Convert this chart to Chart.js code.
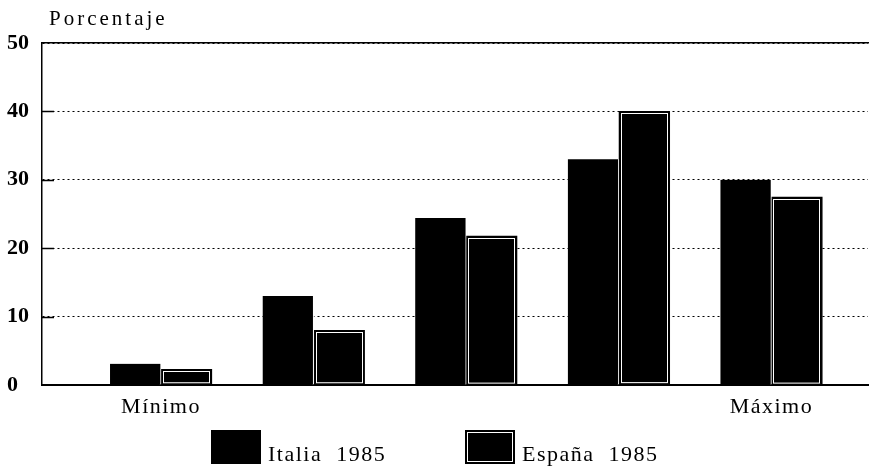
<!DOCTYPE html>
<html><head><meta charset="utf-8">
<script src="https://cdn.jsdelivr.net/npm/chart.js@4"></script>
<style>
html,body{margin:0;padding:0;background:#fff;}
#wrap{position:relative;width:872px;height:466px;overflow:hidden;}
canvas{position:absolute;left:0;top:0;}
.legtxt{position:absolute;font-family:"Liberation Serif",serif;font-size:22px;line-height:22px;letter-spacing:1.5px;white-space:pre;color:#000;}
.sw{position:absolute;width:50px;height:34px;background:#000;}
.sw.inner{box-shadow:inset 0 0 0 2px #000, inset 0 0 0 3px #fff;}
</style></head><body>
<div id="wrap"><canvas id="c" width="872" height="466"></canvas><div id="legend"></div></div>
<script>
const categories = ["Mínimo", "", "", "", "Máximo"];
const seriesNames = ["Italia  1985", "España  1985"];
const italia = [3.1, 13, 24.4, 33, 30];
const espana = [2.3, 8, 21.8, 40, 27.5];
const yTickValues = [0, 10, 20, 30, 40, 50];
const yAxisTitle = "Porcentaje";

const toPoints = arr => arr.map((v, i) => ({x: i + 1, y: v}));

const innerLine = {
  id: 'innerLine',
  beforeDraw(chart) { chart.ctx.letterSpacing = '1.5px'; },
  beforeDatasetsDraw(chart) {
    chart.ctx.letterSpacing = '0px';
    // short solid tick marks inside the y axis
    const ctx = chart.ctx, ys = chart.scales.y, a = chart.chartArea;
    ctx.save();
    ctx.strokeStyle = '#000';
    ctx.lineWidth = 1.5;
    yTickValues.slice(1, -1).forEach(v => {
      const py = Math.round(ys.getPixelForValue(v)) + 0.5;
      ctx.beginPath();
      ctx.moveTo(a.left, py);
      ctx.lineTo(a.left + 12, py);
      ctx.stroke();
    });
    ctx.restore();
  },
  afterDatasetsDraw(chart) {
    const ctx = chart.ctx;
    const meta = chart.getDatasetMeta(1);
    ctx.save();
    ctx.strokeStyle = '#fff';
    ctx.lineWidth = 1;
    meta.data.forEach(el => {
      const p = el.getProps(['x', 'y', 'base', 'width'], true);
      const l = p.x - p.width / 2;
      ctx.strokeRect(Math.round(l) + 2.5, Math.round(p.y) + 2.5, p.width - 5, p.base - p.y - 4);
    });
    ctx.restore();
  },
  afterDraw(chart) {
    const ctx = chart.ctx;
    ctx.save();
    ctx.letterSpacing = '3px';
    ctx.font = '21px "Liberation Serif", serif';
    ctx.fillStyle = '#000';
    ctx.textBaseline = 'alphabetic';
    ctx.fillText(yAxisTitle, chart.chartArea.left + 7, chart.chartArea.top - 18);
    ctx.restore();
  }
};

new Chart(document.getElementById('c'), {
  type: 'bar',
  data: {
    datasets: [
      {label: seriesNames[0], data: toPoints(italia), backgroundColor: '#000',
       borderColor: '#fff', borderWidth: {left: 0, top: 0, bottom: 0, right: 1}, borderSkipped: false},
      {label: seriesNames[1], data: toPoints(espana), backgroundColor: '#000',
       borderColor: '#000', borderWidth: 1, borderSkipped: false}
    ]
  },
  options: {
    responsive: false,
    animation: false,
    devicePixelRatio: 1,
    layout: {padding: {left: 7, right: 4, top: 43, bottom: 46}},
    datasets: {bar: {barThickness: 51}},
    plugins: {legend: {display: false}, tooltip: {enabled: false}},
    scales: {
      x: {
        type: 'linear', position: 'bottom', offset: false,
        min: 0.22, max: 5.633,
        afterBuildTicks: s => { s.ticks = categories.map((c, i) => ({value: i + 1})); },
        afterFit: s => { s.height = 35; },
        ticks: {
          autoSkip: false, maxRotation: 0, padding: 9, color: '#000',
          font: {family: '"Liberation Serif", serif', size: 22}, z: 0,
          callback: v => categories[Math.round(v) - 1] ?? ''
        },
        grid: {display: false, drawTicks: false},
        border: {display: true, color: '#000', width: 2}
      },
      xTop: {
        type: 'linear', position: 'top', display: true,
        afterFit: s => { s.height = 0; },
        ticks: {display: false},
        grid: {display: false, drawTicks: false},
        border: {display: true, color: '#000', width: 1.5}
      },
      y: {
        min: 0, max: 50,
        afterBuildTicks: s => { s.ticks = yTickValues.map(v => ({value: v})); },
        afterFit: s => { s.width = 35; },
        ticks: {
          padding: 10, color: '#000', crossAlign: 'far', z: 1,
          font: {family: '"Liberation Serif", serif', size: 22, weight: 'bold'}
        },
        grid: {color: '#000', lineWidth: 1, drawTicks: false},
        border: {display: true, color: '#000', width: 1.5, dash: [2, 3]}
      }
    }
  },
  plugins: [innerLine]
});

// HTML legend built from the series names
const legend = document.getElementById('legend');
const swX = [211, 465];
seriesNames.forEach((name, i) => {
  const sw = document.createElement('div');
  sw.className = 'sw' + (i === 1 ? ' inner' : '');
  sw.style.left = swX[i] + 'px';
  sw.style.top = '430px';
  legend.appendChild(sw);
  const t = document.createElement('div');
  t.className = 'legtxt';
  t.textContent = name;
  t.style.left = (swX[i] + 57) + 'px';
  t.style.top = '443px';
  legend.appendChild(t);
});
</script>
</body></html>
